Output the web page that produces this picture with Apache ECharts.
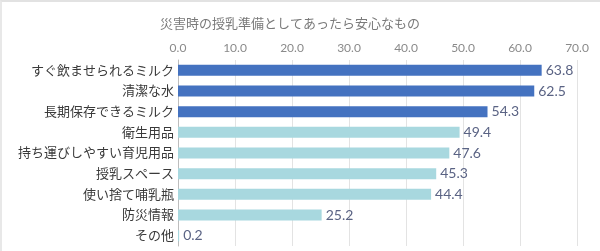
<!DOCTYPE html>
<html>
<head>
<meta charset="utf-8">
<script src="https://cdn.jsdelivr.net/npm/echarts@6/dist/echarts.min.js"></script>
<style>
  html, body { margin: 0; padding: 0; background: #fff; }
  #chart { width: 600px; height: 251px; box-sizing: border-box; border-top: 2px solid #e2e2e2; border-left: 2px solid #e8e8e8; }
</style>
</head>
<body>
<div id="chart"></div>
<script>
  // データ
  var categories = ['すぐ飲ませられるミルク', '清潔な水', '長期保存できるミルク', '衛生用品', '持ち運びしやすい育児用品', '授乳スペース', '使い捨て哺乳瓶', '防災情報', 'その他']
  var values = [63.8, 62.5, 54.3, 49.4, 47.6, 45.3, 44.4, 25.2, 0.2]
  var highlightCount = 3
  var tickLabels = ['0.0', '10.0', '20.0', '30.0', '40.0', '50.0', '60.0', '70.0']

  var font = 'Lato, "Noto Sans CJK JP", sans-serif'
  var chart = echarts.init(document.getElementById('chart'))

  var option = {
    animation: false,
    title: {
      text: '災害時の授乳準備としてあったら安心なもの',
      left: 153,
      top: 10,
      textStyle: { color: '#7a7a7a', fontSize: 13, fontWeight: 'normal', fontFamily: font }
    },
    grid: { left: 176, right: 23, top: 58, bottom: 5, containLabel: false },
    xAxis: {
      type: 'value',
      position: 'top',
      min: 0,
      max: 70,
      interval: 10,
      axisLine: { show: false },
      axisTick: { show: false },
      splitLine: { lineStyle: { color: '#e3e3e3', width: 1 } },
      axisLabel: {
        color: '#8a8a8a',
        fontSize: 12,
        fontFamily: font,
        margin: 6,
        formatter: function (v) { return tickLabels[Math.round(v / 10)] }
      }
    },
    yAxis: {
      type: 'category',
      inverse: true,
      data: categories,
      axisLine: { show: true, lineStyle: { color: '#bdbdbd' } },
      axisTick: { show: false },
      axisLabel: { color: '#3a3a3a', fontSize: 13, fontFamily: font, margin: 4 }
    },
    series: [{
      type: 'bar',
      barWidth: 11,
      data: values.map(function (v, i) {
        return { value: v, itemStyle: { color: i < highlightCount ? '#4472c0' : '#a8d8df' } }
      }),
      label: {
        show: true,
        position: 'right',
        distance: 4,
        color: '#5a6384',
        fontSize: 14,
        fontFamily: font,
        formatter: function (p) { return p.value.toFixed(1) }
      }
    }]
  }
  chart.setOption(option)
</script>
</body>
</html>
